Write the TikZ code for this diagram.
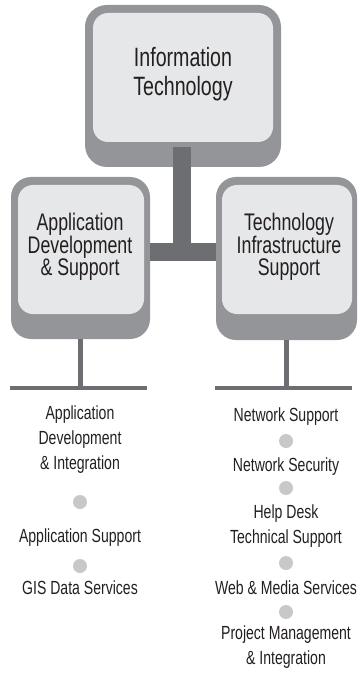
\documentclass[tikz,border=0pt]{standalone}
\usepackage{fontspec}
\setmainfont{Liberation Sans}[FakeStretch=0.74]
\definecolor{bordergray}{HTML}{939598}
\definecolor{innerfill}{HTML}{E6E7E8}
\definecolor{stemdark}{HTML}{6D6E71}
\definecolor{dotgray}{HTML}{C7C8CA}
\definecolor{txt}{HTML}{231F20}
\begin{document}
\begin{tikzpicture}[x=1pt,y=-1pt,
  outerbox/.style={fill=bordergray, rounded corners=22pt, inner sep=0pt, draw=none},
  innerbox/.style={fill=innerfill, rounded corners=15pt, inner sep=0pt, draw=none},
  titletext/.style={text=txt, align=center, inner sep=0pt},
  listtext/.style={text=txt, align=center, inner sep=0pt, font=\fontsize{19pt}{25pt}\selectfont},
  dot/.style={circle, fill=dotgray, minimum size=14pt, inner sep=0pt},
  stemline/.style={draw=stemdark, line cap=butt}
]
\useasboundingbox (0,0) rectangle (358,676);
% top box
\node[outerbox, minimum width=196pt, minimum height=162pt] (itout) at (183,86) {};
\node[innerbox, minimum width=180pt, minimum height=129pt] (itin) at (183,77.5) {};
\node[titletext, font=\fontsize{26.5pt}{29pt}\selectfont] (ittext) at (183,74) {Information\\Technology};
% T connector
\coordinate (jtop) at (182,147);
\coordinate (jbot) at (182,261);
\coordinate (jmid) at (182,252);
% lower boxes
\node[outerbox, rounded corners=20pt, minimum width=139pt, minimum height=162pt] (adsout) at (80.5,258) {};
\node[innerbox, minimum width=126pt, minimum height=129pt] (adsin) at (81,249.5) {};
\node[titletext, font=\fontsize{24pt}{22pt}\selectfont] (adstext) at (80,246.5) {Application\\Development\\\& Support};
\node[outerbox, rounded corners=20pt, minimum width=141pt, minimum height=163pt] (tisout) at (286.5,258.5) {};
\node[innerbox, minimum width=130pt, minimum height=129pt] (tisin) at (287,249.5) {};
\node[titletext, font=\fontsize{24pt}{22pt}\selectfont] (tistext) at (289,246.5) {Technology\\Infrastructure\\Support};
\draw[stemline, line width=18pt] (jtop) -- (jbot);
\draw[stemline, line width=18pt] (adsout.east |- jmid) -- (tisout.west |- jmid);
% lower stems and bars
\coordinate (lbarl) at (10,388);
\coordinate (lbarr) at (147,388);
\coordinate (rbarl) at (215,388);
\coordinate (rbarr) at (352,388);
\draw[stemline, line width=5pt] (adsout.south) -- (adsout.south |- lbarl);
\draw[stemline, line width=5pt] (tisout.south) -- (tisout.south |- rbarl);
\draw[stemline, line width=4.5pt] (lbarl) -- (lbarr);
\draw[stemline, line width=4.5pt] (rbarl) -- (rbarr);
% left list
\node[listtext] (l1) at (80,440) {Application\\Development\\\& Integration};
\node[dot] (ld1) at (80,502) {};
\node[listtext] (l2) at (80,538) {Application Support};
\node[dot] (ld2) at (80,566) {};
\node[listtext] (l3) at (80,588) {GIS Data Services};
% right list
\node[listtext] (r1) at (286,417) {Network Support};
\node[dot] (rd1) at (286,441) {};
\node[listtext] (r2) at (286,467) {Network Security};
\node[dot] (rd2) at (286,488) {};
\node[listtext] (r3) at (286,526) {Help Desk\\Technical Support};
\node[dot] (rd3) at (286,563) {};
\node[listtext] (r4) at (286,588) {Web \& Media Services};
\node[dot] (rd4) at (286,612) {};
\node[listtext] (r5) at (286,647.5) {Project Management\\\& Integration};
\end{tikzpicture}
\end{document}
